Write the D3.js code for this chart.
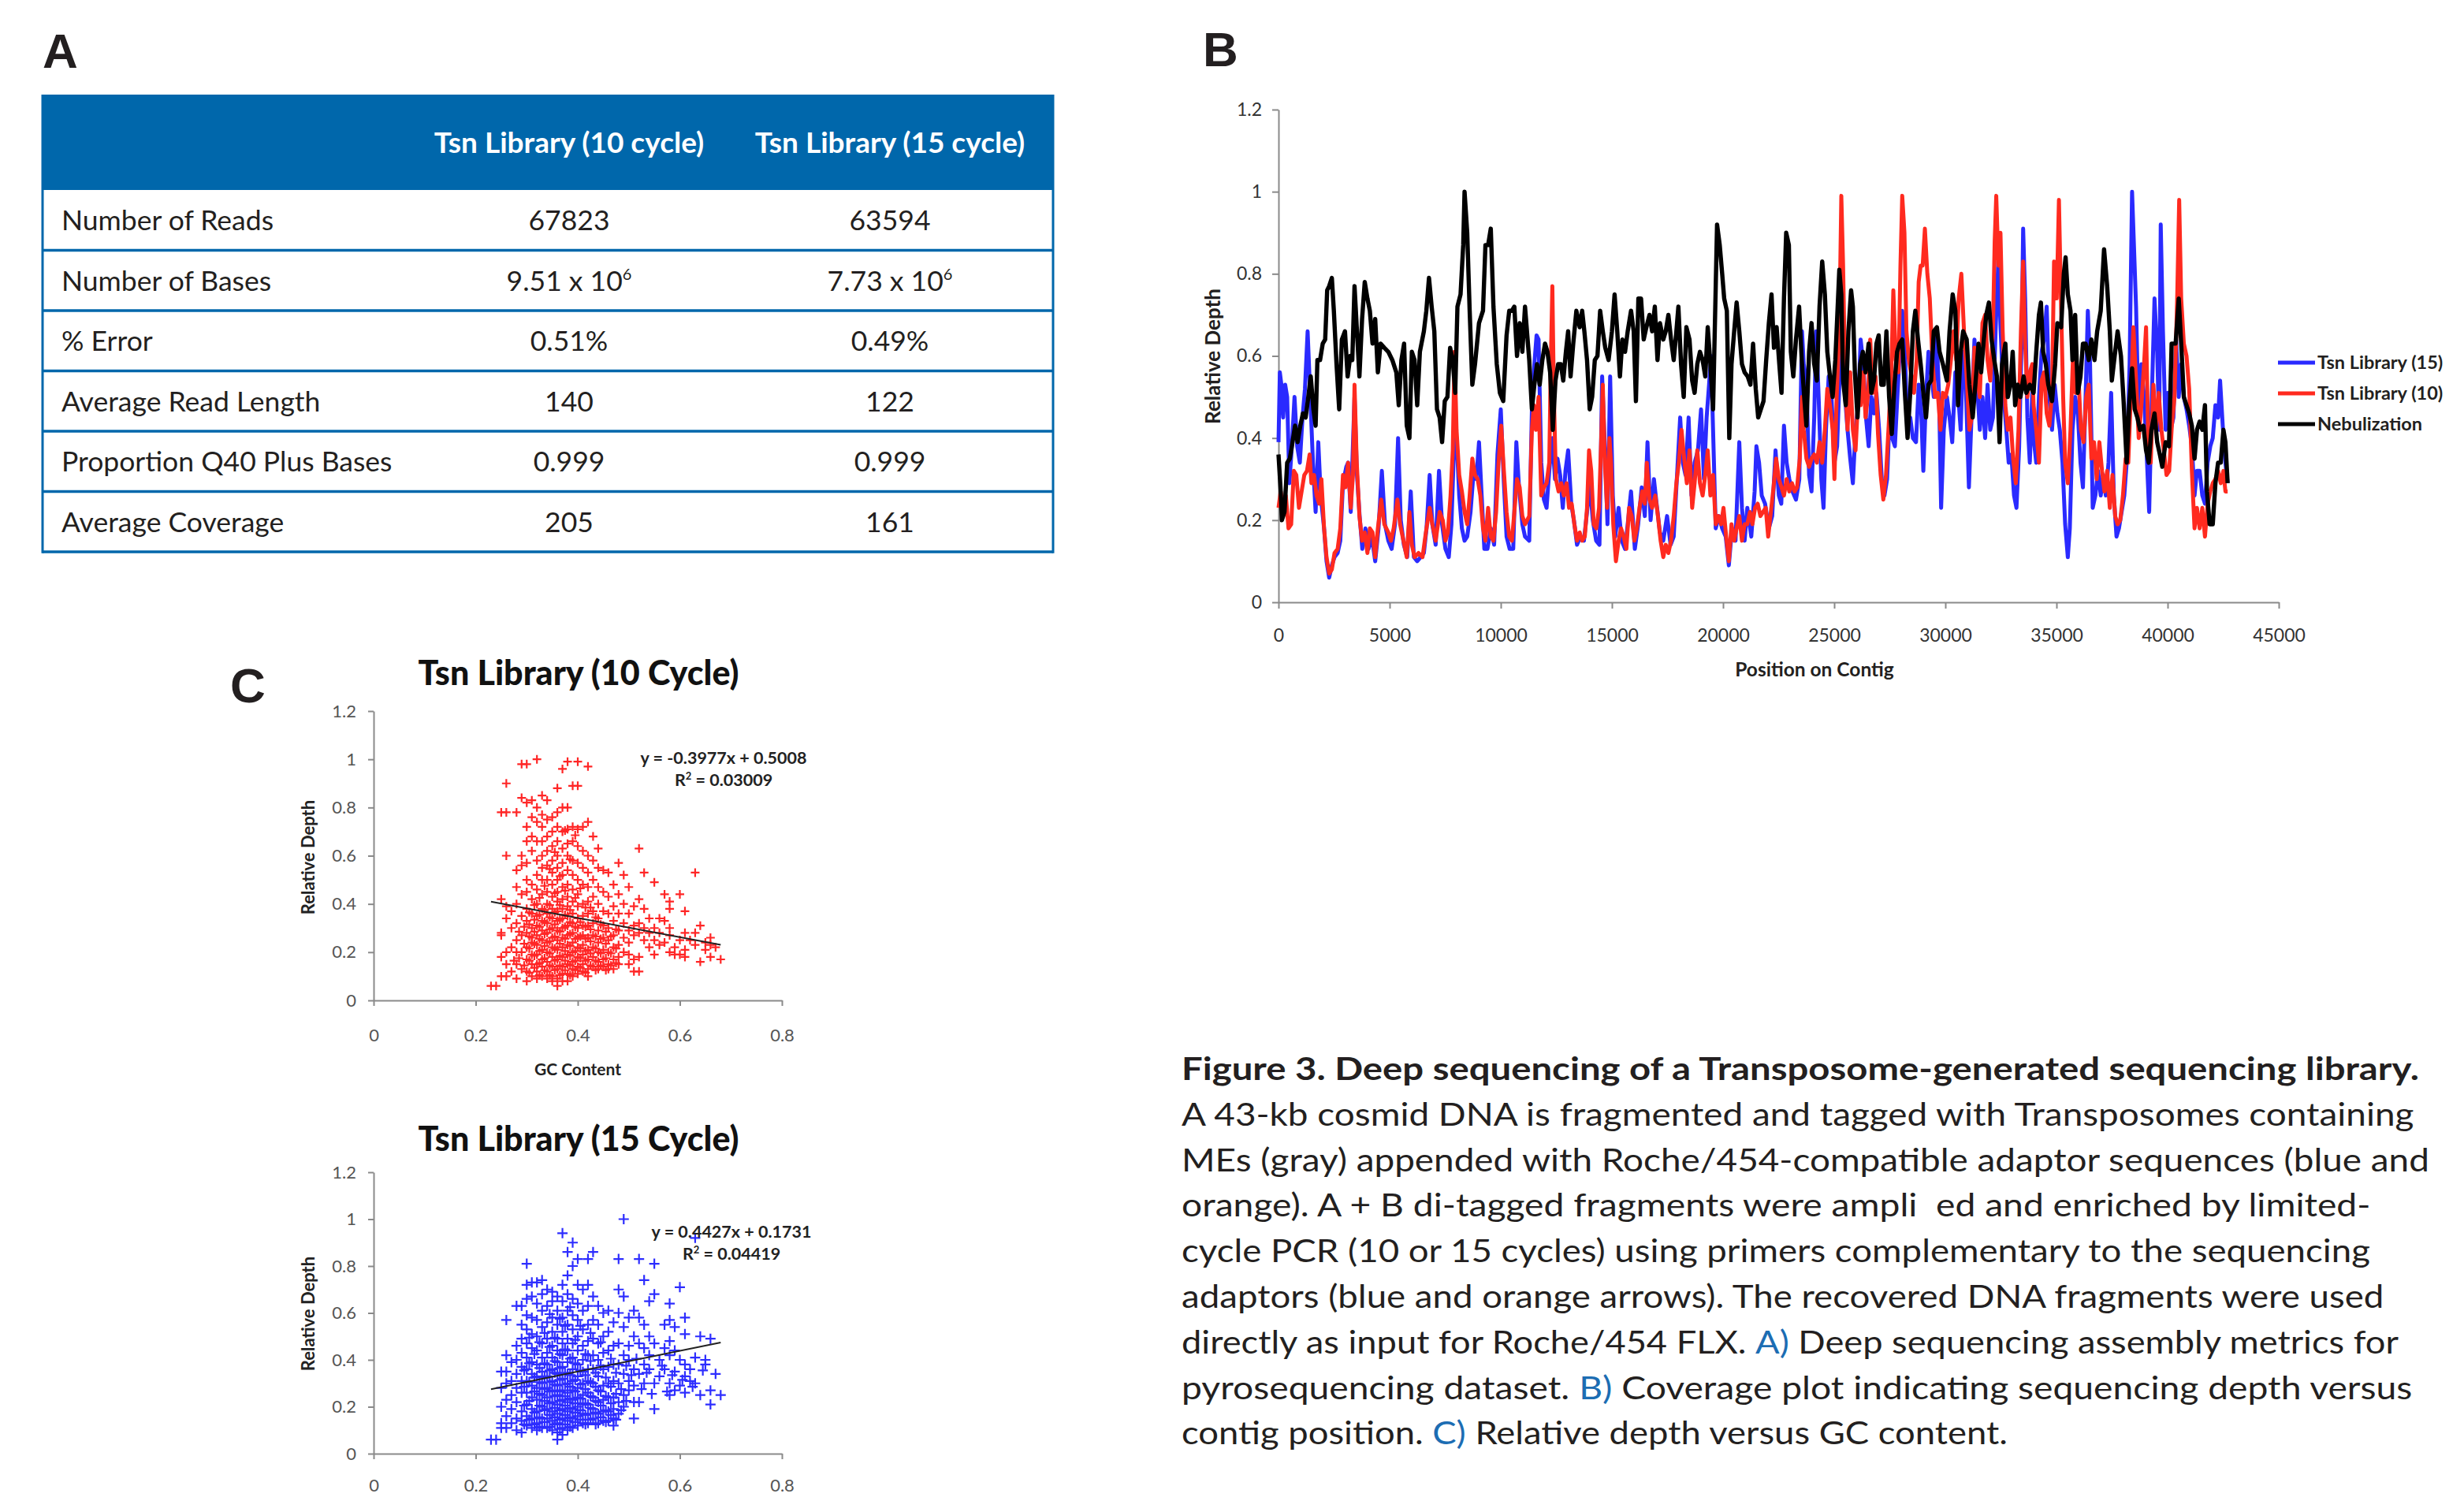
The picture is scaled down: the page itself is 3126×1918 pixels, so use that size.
<!DOCTYPE html>
<html lang="en">
<head>
<meta charset="UTF-8" />
<title>Figure 3. Deep sequencing of a Transposome-generated sequencing library</title>
<script src="https://d3js.org/d3.v7.min.js"></script>
<style>
  body { margin: 0; background: #fff; }
  svg { display: block; font-family: Lato, "Open Sans", sans-serif; }
  .axis path, .axis line { stroke: #8a8a8a; stroke-width: 2; }
</style>
</head>
<body>
<div id="figure"></div>
<script>
// ---------- A: assembly metrics ----------
const libraryHeaders = ["Tsn Library (10 cycle)", "Tsn Library (15 cycle)"];
const metricNames = ["Number of Reads", "Number of Bases", "% Error", "Average Read Length",
  "Proportion Q40 Plus Bases", "Average Coverage"];
const tsn10Metrics = ["67823", "9.51 x 10^6", "0.51%", "140", "0.999", "205"];
const tsn15Metrics = ["63594", "7.73 x 10^6", "0.49%", "122", "0.999", "161"];

// ---------- B: coverage along the contig [position, relative depth] ----------
const positionTicks = [0, 5000, 10000, 15000, 20000, 25000, 30000, 35000, 40000, 45000];
const depthTicks = [0, 0.2, 0.4, 0.6, 0.8, 1, 1.2];
const coverageLabels = ["Tsn Library (15)", "Tsn Library (10)", "Nebulization"];

const tsn15Coverage = [
  [0,.39],[60,.56],[130,.53],[210,.45],[300,.53],[390,.50],[490,.29],[600,.38],[720,.50],[840,.38],[960,.34],[1080,.45],[1190,.52],[1310,.66],[1430,.50],[1550,.34],[1670,.22],[1790,.39],[1900,.26],[2050,.18],[2160,.10],[2280,.06],[2400,.09],[2520,.11],[2660,.12],[2780,.15],[2900,.29],[3050,.33],[3130,.34],[3250,.22],[3420,.50],[3530,.31],[3650,.21],[3770,.13],[3910,.18],[4050,.13],[4200,.16],[4350,.10],[4500,.18],[4650,.32],[4790,.19],[4940,.15],[5090,.13],[5240,.19],[5380,.40],[5500,.20],[5640,.14],[5790,.11],[5950,.27],[6090,.11],[6240,.10],[6400,.11],[6540,.12],[6660,.18],[6800,.31],[6920,.19],[7070,.14],[7220,.32],[7360,.19],[7510,.13],[7660,.11],[7780,.19],[7920,.42],[8010,.40],[8130,.26],[8250,.18],[8370,.15],[8490,.16],[8640,.22],[8780,.32],[8900,.30],[9020,.39],[9140,.26],[9260,.13],[9400,.13],[9550,.18],[9700,.14],[9850,.36],[10000,.47],[10140,.29],[10260,.16],[10400,.13],[10560,.13],[10700,.39],[10820,.28],[10970,.19],[11090,.16],
  [11280,.15],[11400,.47],[11510,.58],[11610,.65],[11700,.64],[11820,.34],[11940,.25],[12060,.23],[12180,.32],[12320,.40],[12440,.30],[12550,.35],[12670,.31],[12790,.23],[12910,.32],[13030,.37],[13170,.24],[13290,.20],[13430,.14],[13580,.16],[13740,.15],[13880,.22],[14000,.29],[14140,.20],[14290,.15],[14440,.14],[14560,.55],[14680,.38],[14800,.19],[14920,.55],[15040,.26],[15150,.16],[15300,.23],[15440,.15],[15590,.13],[15710,.19],[15860,.27],[16030,.13],[16180,.19],[16340,.28],[16480,.21],[16600,.39],[16740,.20],[16890,.30],[17010,.24],[17160,.17],[17310,.15],[17480,.21],[17640,.14],[17780,.16],[17920,.30],[18070,.45],[18190,.34],[18310,.31],[18450,.45],[18580,.26],[18720,.34],[18870,.37],[19010,.47],[19140,.30],[19260,.45],[19370,.53],[19460,.60],[19550,.42],[19670,.18],[19810,.21],[19960,.18],[20120,.16],[20260,.09],[20400,.18],[20560,.15],[20730,.39],[20850,.23],[20970,.15],[21090,.23],[21270,.16],[21420,.27],[21500,.38],[21620,.34],[21740,.26],[21890,.24],[22060,.18],[22210,.21],[22360,.37],[22510,.26],[22620,.24],
  [22740,.43],[22860,.34],[22980,.30],[23120,.27],[23280,.25],[23430,.30],[23550,.66],[23630,.58],[23750,.54],[23870,.31],[23980,.27],[24100,.45],[24190,.66],[24300,.50],[24420,.30],[24520,.23],[24630,.42],[24750,.55],[24870,.51],[25010,.34],[25130,.38],[25250,.56],[25370,.67],[25490,.50],[25600,.42],[25720,.35],[25840,.29],[25960,.42],[26080,.48],[26190,.64],[26310,.58],[26430,.45],[26550,.38],[26670,.50],[26790,.46],[26900,.51],[27020,.42],[27140,.30],[27260,.26],[27380,.30],[27490,.45],[27610,.40],[27730,.38],[27850,.51],[27970,.63],[28060,.71],[28180,.61],[28300,.42],[28420,.45],[28540,.40],[28680,.39],[28800,.53],[28910,.47],[29010,.32],[29130,.50],[29240,.61],[29360,.56],[29480,.50],[29600,.66],[29720,.50],[29810,.23],[29930,.42],[30070,.50],[30190,.45],[30310,.39],[30450,.56],[30570,.51],[30690,.42],[30800,.61],[30920,.53],[31060,.28],[31190,.47],[31310,.64],[31430,.53],[31550,.42],[31670,.50],[31790,.40],[31900,.53],[32020,.42],[32140,.45],[32260,.66],[32380,.83],[32490,.66],[32610,.51],[32730,.43],[32850,.34],[32970,.36],[33090,.26],[33200,.23],[33320,.38],[33440,.66],[33500,.91],[33590,.74],[33690,.45],[33800,.34],[33910,.51],
  [33970,.40],[34090,.34],[34210,.50],[34330,.61],[34440,.64],[34560,.72],[34680,.50],[34800,.42],[34920,.53],[35040,.46],[35150,.42],[35270,.34],[35390,.19],[35510,.11],[35600,.18],[35720,.42],[35840,.50],[35960,.46],[36080,.34],[36190,.28],[36310,.50],[36410,.71],[36510,.58],[36630,.23],[36750,.26],[36870,.32],[36990,.26],[37100,.31],[37220,.26],[37340,.34],[37460,.51],[37580,.26],[37700,.16],[37810,.18],[37930,.22],[38050,.26],[38170,.35],[38290,.58],[38400,1.0],[38490,.86],[38580,.72],[38700,.43],[38820,.58],[38940,.50],[39050,.37],[39170,.22],[39290,.50],[39410,.74],[39530,.61],[39620,.42],[39690,.92],[39790,.66],[39910,.42],[40020,.51],[40140,.42],[40260,.45],[40380,.64],[40500,.50],[40610,.58],[40730,.50],[40850,.47],[40970,.43],[41090,.38],[41210,.26],[41320,.32],[41440,.32],[41560,.26],[41680,.24],[41800,.34],[41920,.38],[42030,.40],[42150,.48],[42270,.45],[42360,.54],[42480,.43],[42600,.34],[42700,.29]
];

const tsn10Coverage = [
  [0,.23],[100,.27],[210,.23],[330,.26],[450,.18],[570,.19],[690,.32],[800,.31],[920,.23],[1040,.27],[1160,.31],[1280,.32],[1400,.36],[1480,.29],[1600,.31],[1710,.26],[1830,.24],[1930,.30],[2050,.18],[2160,.11],[2280,.07],[2400,.08],[2520,.12],[2660,.13],[2780,.18],[2900,.31],[3010,.28],[3130,.34],[3250,.23],[3350,.31],[3420,.53],[3520,.34],[3640,.21],[3760,.15],[3880,.17],[4000,.12],[4110,.18],[4230,.17],[4350,.11],[4470,.18],[4620,.25],[4760,.19],[4940,.17],[5060,.15],[5180,.18],[5350,.25],[5470,.19],[5620,.15],[5770,.11],[5890,.22],[6000,.14],[6120,.11],[6300,.12],[6480,.11],[6630,.17],[6800,.23],[6920,.19],[7070,.15],[7250,.22],[7390,.20],[7510,.15],[7620,.17],[7740,.26],[7840,.37],[7920,.61],[8010,.42],[8130,.31],[8250,.27],[8370,.22],[8490,.19],[8600,.26],[8720,.35],[8840,.31],[8960,.30],[9080,.26],[9200,.18],[9310,.15],[9430,.23],[9550,.16],[9670,.15],[9790,.22],[9900,.34],[10020,.43],[10140,.32],[10260,.22],[10380,.16],[10500,.15],[10610,.22],[10730,.30],[10850,.28],[10970,.21],[11090,.19],
  [11280,.21],[11400,.42],[11490,.48],[11580,.42],[11700,.50],[11820,.26],[11940,.28],[12060,.29],[12180,.34],[12250,.58],[12320,.77],[12390,.50],[12480,.30],[12600,.27],[12720,.29],[12840,.26],[12960,.29],[13070,.23],[13190,.24],[13310,.19],[13430,.15],[13550,.17],[13660,.15],[13780,.16],[13880,.23],[13970,.37],[14070,.32],[14180,.19],[14300,.18],[14420,.23],[14520,.40],[14590,.53],[14680,.34],[14780,.23],[14890,.40],[14960,.34],[15060,.19],[15180,.10],[15300,.15],[15410,.18],[15530,.16],[15650,.13],[15770,.23],[15890,.21],[16010,.15],[16120,.18],[16240,.23],[16360,.27],[16480,.24],[16570,.34],[16690,.25],[16810,.23],[16950,.26],[17070,.21],[17190,.15],[17310,.11],[17420,.14],[17540,.12],[17660,.15],[17780,.21],[17900,.29],[18010,.34],[18130,.42],[18250,.35],[18370,.29],[18490,.37],[18610,.23],[18720,.29],[18840,.37],[18960,.29],[19080,.26],[19200,.31],[19310,.37],[19430,.26],[19550,.31],[19670,.19],[19790,.21],[19910,.19],[20020,.23],[20140,.16],[20260,.10],[20380,.19],[20500,.15],[20610,.18],[20730,.21],[20850,.15],[20970,.19],[21090,.19],[21210,.22],[21320,.19],[21440,.23],[21560,.24],[21680,.21],[21800,.22],[21920,.23],[22030,.16],[22150,.22],[22270,.28],[22390,.35],[22510,.30],
  [22630,.28],[22740,.26],[22860,.30],[22980,.27],[23100,.29],[23220,.27],[23330,.28],[23450,.35],[23550,.50],[23630,.42],[23750,.35],[23870,.33],[23980,.35],[24100,.36],[24220,.34],[24340,.39],[24460,.34],[24580,.42],[24690,.52],[24810,.48],[24930,.42],[25010,.30],[25110,.50],[25230,.66],[25320,.99],[25400,.82],[25490,.54],[25600,.42],[25720,.56],[25840,.42],[25960,.37],[26080,.50],[26190,.48],[26310,.56],[26410,.45],[26530,.51],[26620,.64],[26740,.51],[26860,.55],[26970,.41],[27090,.31],[27210,.25],[27330,.31],[27450,.43],[27570,.56],[27660,.76],[27770,.59],[27890,.56],[27980,.82],[28060,.99],[28160,.90],[28250,.66],[28360,.59],[28480,.55],[28590,.51],[28710,.59],[28800,.78],[28890,.82],[28980,.82],[29080,.91],[29190,.80],[29300,.74],[29420,.59],[29540,.50],[29660,.51],[29780,.42],[29890,.51],[30010,.50],[30130,.53],[30250,.59],[30370,.66],[30490,.59],[30600,.74],[30720,.80],[30840,.66],[30960,.55],[31080,.42],[31190,.45],[31310,.62],[31430,.55],[31550,.50],[31670,.68],[31790,.70],[31900,.59],[32020,.54],[32140,.66],[32220,.88],[32290,.99],[32390,.82],[32480,.90],[32580,.66],[32700,.48],[32810,.42],[32930,.45],[33050,.35],[33170,.29],[33290,.42],[33400,.66],[33500,.83],[33590,.63],[33690,.50],[33800,.56],[33910,.58],
  [33970,.48],[34090,.42],[34210,.34],[34330,.54],[34440,.56],[34560,.46],[34680,.43],[34800,.51],[34890,.83],[35010,.74],[35110,.98],[35200,.74],[35300,.50],[35390,.34],[35510,.29],[35630,.42],[35750,.61],[35860,.51],[35980,.56],[36100,.42],[36220,.39],[36340,.50],[36450,.53],[36570,.35],[36690,.39],[36810,.30],[36930,.39],[37050,.32],[37160,.27],[37280,.32],[37400,.23],[37520,.31],[37640,.21],[37750,.19],[37870,.20],[37990,.26],[38110,.35],[38230,.34],[38350,.51],[38460,.67],[38580,.54],[38700,.40],[38820,.48],[38940,.58],[39030,.67],[39130,.39],[39240,.34],[39360,.53],[39480,.42],[39600,.51],[39720,.42],[39830,.37],[39950,.31],[40070,.32],[40190,.43],[40310,.50],[40430,.74],[40520,.98],[40610,.74],[40730,.63],[40850,.60],[40970,.52],[41090,.32],[41210,.18],[41320,.23],[41440,.18],[41560,.23],[41680,.16],[41800,.24],[41920,.27],[42030,.29],[42150,.30],[42270,.32],[42390,.29],[42510,.32],[42600,.27],[42700,.27]
];

const nebulizationCoverage = [
  [0,.36],[100,.27],[150,.20],[270,.22],[390,.34],[510,.35],[630,.39],[745,.43],[860,.39],[980,.43],[1100,.46],[1220,.45],[1340,.50],[1450,.55],[1570,.47],[1670,.43],[1750,.59],[1870,.59],[1990,.63],[2100,.64],[2190,.76],[2280,.77],[2400,.79],[2490,.71],[2610,.58],[2730,.47],[2850,.64],[2990,.66],[3110,.55],[3230,.60],[3320,.59],[3420,.77],[3520,.67],[3640,.55],[3760,.69],[3880,.78],[4000,.74],[4110,.71],[4230,.63],[4350,.69],[4470,.56],[4590,.63],[4760,.62],[4940,.61],[5120,.59],[5300,.56],[5410,.48],[5530,.59],[5650,.63],[5770,.43],[5890,.40],[6000,.61],[6120,.59],[6240,.48],[6360,.61],[6540,.66],[6650,.71],[6770,.79],[6890,.72],[7010,.66],[7130,.47],[7250,.45],[7360,.39],[7480,.49],[7600,.50],[7720,.62],[7840,.59],[7950,.51],[8050,.72],[8190,.75],[8310,.87],[8370,1.0],[8490,.90],[8600,.71],[8720,.53],[8840,.58],[9020,.68],[9200,.71],[9310,.87],[9430,.87],[9550,.91],[9670,.72],[9820,.58],[9960,.51],[10110,.49],[10260,.65],[10380,.71],[10500,.71],[10610,.72],[10730,.60],[10850,.68],[10970,.61],[11090,.72],
  [11280,.59],[11400,.47],[11510,.53],[11630,.58],[11750,.53],[11870,.59],[11990,.63],[12100,.61],[12220,.56],[12340,.42],[12460,.54],[12580,.58],[12700,.58],[12810,.54],[12930,.61],[13030,.66],[13140,.55],[13260,.63],[13400,.71],[13550,.67],[13660,.71],[13760,.66],[13880,.59],[14000,.47],[14110,.50],[14230,.59],[14350,.60],[14470,.71],[14590,.66],[14700,.62],[14850,.59],[15000,.66],[15120,.75],[15240,.66],[15360,.55],[15470,.64],[15590,.61],[15710,.66],[15860,.71],[15980,.66],[16080,.49],[16190,.74],[16310,.74],[16430,.64],[16550,.67],[16690,.70],[16810,.66],[16930,.72],[17050,.59],[17160,.68],[17310,.64],[17420,.66],[17540,.70],[17660,.64],[17780,.59],[17900,.66],[17990,.72],[18110,.58],[18230,.50],[18350,.67],[18490,.64],[18610,.54],[18720,.51],[18840,.58],[18960,.61],[19080,.59],[19200,.55],[19310,.67],[19430,.58],[19550,.47],[19670,.77],[19730,.92],[19850,.87],[19960,.80],[20050,.74],[20170,.71],[20280,.40],[20380,.58],[20500,.66],[20610,.73],[20730,.66],[20850,.58],[20970,.56],[21110,.55],[21230,.53],[21350,.63],[21470,.52],[21580,.45],[21700,.47],[21820,.49],[21940,.59],[22060,.68],[22180,.75],[22290,.62],[22410,.67],[22530,.58],
  [22630,.51],[22740,.74],[22840,.90],[22960,.87],[23050,.61],[23160,.55],[23280,.64],[23420,.72],[23540,.59],[23650,.50],[23750,.43],[23870,.61],[23980,.68],[24100,.58],[24220,.54],[24340,.72],[24460,.83],[24580,.75],[24690,.61],[24810,.55],[24930,.50],[25050,.59],[25230,.81],[25320,.75],[25400,.54],[25520,.48],[25640,.66],[25760,.76],[25840,.72],[25930,.56],[26050,.45],[26170,.58],[26290,.61],[26410,.56],[26550,.63],[26670,.51],[26790,.54],[26900,.63],[27000,.65],[27120,.53],[27230,.53],[27350,.66],[27470,.50],[27590,.41],[27710,.53],[27830,.61],[27940,.63],[28060,.64],[28180,.51],[28300,.40],[28420,.51],[28540,.66],[28650,.71],[28770,.64],[28890,.58],[29010,.51],[29130,.45],[29240,.53],[29360,.54],[29480,.66],[29620,.67],[29740,.61],[29890,.58],[30070,.54],[30190,.66],[30330,.75],[30450,.71],[30570,.48],[30690,.61],[30800,.66],[30960,.64],[31080,.53],[31230,.45],[31350,.53],[31490,.63],[31610,.56],[31730,.64],[31840,.70],[31960,.73],[32080,.64],[32200,.59],[32320,.55],[32440,.39],[32550,.58],[32700,.63],[32810,.50],[32930,.53],[33030,.61],[33140,.48],[33260,.53],[33380,.50],[33520,.55],[33640,.51],[33800,.53],
  [33970,.51],[34090,.61],[34210,.70],[34300,.73],[34400,.61],[34520,.58],[34630,.53],[34800,.49],[34940,.58],[35040,.68],[35210,.67],[35330,.80],[35410,.84],[35510,.75],[35630,.71],[35720,.59],[35840,.70],[35960,.51],[36080,.55],[36190,.63],[36310,.63],[36450,.59],[36570,.64],[36710,.59],[36830,.66],[36990,.71],[37140,.86],[37280,.77],[37400,.66],[37490,.54],[37640,.61],[37750,.66],[37900,.60],[38010,.50],[38160,.34],[38270,.48],[38400,.57],[38520,.47],[38640,.45],[38760,.42],[38910,.43],[39030,.37],[39150,.34],[39270,.42],[39410,.46],[39530,.39],[39650,.36],[39760,.33],[39910,.39],[40060,.38],[40180,.63],[40360,.63],[40500,.74],[40610,.63],[40730,.50],[40850,.48],[40970,.46],[41090,.43],[41210,.35],[41320,.42],[41440,.44],[41560,.42],[41680,.48],[41770,.27],[41890,.19],[42030,.19],[42150,.29],[42270,.34],[42390,.34],[42510,.42],[42600,.39],[42700,.29]
];

// ---------- C: relative depth vs GC content [gc, relative depth] ----------
const gcTicks = [0, 0.2, 0.4, 0.6, 0.8];
const scatterTitles = ["Tsn Library (10 Cycle)", "Tsn Library (15 Cycle)"];
const tsn10Fit = { slope: -0.3977, intercept: 0.5008, r2: "0.03009" };
const tsn15Fit = { slope: 0.4427, intercept: 0.1731, r2: "0.04419" };
const fitGcRange = [0.23, 0.68];

const tsn10Scatter = [
  [.23,.06],[.24,.06],[.25,.10],[.26,.10],[.25,.28],[.25,.27],[.26,.20],[.25,.18],[.26,.15],[.26,.34],[.26,.39],[.25,.42],[.26,.60],[.26,.78],[.25,.78],[.26,.90],
  [.27,.22],[.27,.30],[.27,.12],[.28,.09],[.28,.15],[.28,.25],[.28,.32],[.28,.40],[.28,.47],[.28,.54],[.28,.78],[.29,.84],[.29,.98],[.29,.60],[.29,.56],[.29,.20],[.29,.13],[.29,.35],[.29,.44],[.29,.27],[.27,.37],[.28,.20],
  [.30,.98],[.30,.82],[.30,.72],[.30,.66],[.30,.57],[.30,.50],[.30,.45],[.30,.38],[.30,.33],[.30,.28],[.30,.22],[.30,.17],[.30,.12],[.31,.10],[.31,.15],[.31,.19],[.31,.24],[.31,.30],[.31,.36],[.31,.42],[.31,.48],[.31,.62],[.31,.68],[.31,.76],[.31,.83],[.31,.26],[.30,.08],
  [.32,1.0],[.32,.80],[.32,.74],[.32,.66],[.32,.58],[.32,.52],[.32,.46],[.32,.40],[.32,.35],[.32,.31],[.32,.27],[.32,.23],[.32,.19],[.32,.15],[.32,.12],[.33,.10],[.33,.14],[.33,.17],[.33,.21],[.33,.25],[.33,.29],[.33,.33],[.33,.38],[.33,.44],[.33,.50],[.33,.55],[.33,.60],[.33,.66],[.33,.72],[.33,.85],[.33,.77],[.32,.09],
  [.34,.83],[.34,.75],[.34,.68],[.34,.62],[.34,.56],[.34,.50],[.34,.45],[.34,.40],[.34,.36],[.34,.32],[.34,.28],[.34,.24],[.34,.20],[.34,.16],[.34,.12],[.35,.10],[.35,.14],[.35,.18],[.35,.22],[.35,.26],[.35,.30],[.35,.34],[.35,.38],[.35,.43],[.35,.48],[.35,.53],[.35,.58],[.35,.64],[.35,.70],[.35,.76],[.34,.09],[.35,.08],
  [.36,.88],[.36,.78],[.36,.72],[.36,.66],[.36,.60],[.36,.55],[.36,.50],[.36,.45],[.36,.41],[.36,.37],[.36,.33],[.36,.29],[.36,.25],[.36,.21],[.36,.17],[.36,.13],[.36,.06],[.36,.09],[.37,.96],[.37,.80],[.37,.70],[.37,.63],[.37,.57],[.37,.52],[.37,.47],[.37,.42],[.37,.38],[.37,.34],[.37,.30],[.37,.26],[.37,.22],[.37,.18],[.37,.14],[.37,.11],[.37,.08],
  [.38,.99],[.38,.80],[.38,.71],[.38,.65],[.38,.60],[.38,.54],[.38,.48],[.38,.43],[.38,.39],[.38,.35],[.38,.31],[.38,.27],[.38,.23],[.38,.19],[.38,.15],[.38,.11],[.38,.08],[.39,.89],[.39,.72],[.39,.66],[.39,.58],[.39,.52],[.39,.46],[.39,.41],[.39,.36],[.39,.32],[.39,.28],[.39,.24],[.39,.20],[.39,.16],[.39,.13],[.39,.10],
  [.40,.99],[.40,.89],[.40,.71],[.40,.64],[.40,.57],[.40,.50],[.40,.44],[.40,.39],[.40,.34],[.40,.30],[.40,.26],[.40,.22],[.40,.18],[.40,.14],[.40,.11],[.41,.72],[.41,.62],[.41,.55],[.41,.48],[.41,.40],[.41,.35],[.41,.31],[.41,.27],[.41,.23],[.41,.19],[.41,.15],[.41,.12],
  [.42,.97],[.42,.74],[.42,.60],[.42,.53],[.42,.47],[.42,.41],[.42,.36],[.42,.31],[.42,.26],[.42,.21],[.42,.17],[.42,.13],[.42,.10],[.43,.68],[.43,.58],[.43,.50],[.43,.43],[.43,.37],[.43,.32],[.43,.27],[.43,.22],[.43,.18],[.43,.14],
  [.44,.63],[.44,.55],[.44,.47],[.44,.40],[.44,.34],[.44,.29],[.44,.24],[.44,.20],[.44,.16],[.44,.13],[.45,.54],[.45,.45],[.45,.37],[.45,.31],[.45,.26],[.45,.21],[.45,.17],[.45,.14],
  [.46,.53],[.46,.43],[.46,.36],[.46,.30],[.46,.25],[.46,.20],[.46,.15],[.46,.13],[.47,.48],[.47,.39],[.47,.33],[.47,.27],[.47,.22],[.47,.17],[.47,.13],
  [.48,.57],[.48,.44],[.48,.36],[.48,.29],[.48,.23],[.48,.18],[.48,.15],[.49,.52],[.49,.40],[.49,.32],[.49,.26],[.49,.20],
  [.50,.47],[.50,.36],[.50,.29],[.50,.24],[.50,.19],[.50,.15],[.51,.39],[.51,.31],[.51,.27],[.51,.17],[.51,.12],
  [.52,.63],[.52,.42],[.52,.32],[.52,.28],[.52,.18],[.52,.12],[.53,.53],[.53,.38],[.53,.30],[.53,.25],[.54,.34],[.54,.28],[.54,.22],[.55,.49],[.55,.19],[.55,.30],[.55,.25],
  [.56,.34],[.56,.28],[.56,.23],[.57,.44],[.57,.33],[.57,.24],[.58,.41],[.58,.38],[.58,.30],[.58,.27],[.58,.20],[.59,.19],[.59,.22],
  [.60,.44],[.60,.25],[.60,.19],[.61,.37],[.61,.21],[.61,.18],[.61,.28],[.62,.25],[.63,.53],[.63,.23],[.63,.28],
  [.64,.31],[.64,.16],[.65,.24],[.65,.21],[.66,.26],[.66,.18],[.66,.23],[.67,.22],[.68,.17],
  [.305,.115],[.305,.165],[.305,.215],[.305,.265],[.305,.315],[.305,.365],
  [.315,.135],[.315,.185],[.315,.235],[.315,.285],[.315,.335],[.315,.395],
  [.325,.105],[.325,.155],[.325,.205],[.325,.255],[.325,.305],[.325,.355],[.325,.425],
  [.335,.125],[.335,.175],[.335,.225],[.335,.275],[.335,.325],[.335,.375],[.335,.475],
  [.345,.105],[.345,.145],[.345,.195],[.345,.245],[.345,.295],[.345,.345],[.345,.395],[.345,.545],
  [.355,.125],[.355,.165],[.355,.215],[.355,.265],[.355,.315],[.355,.365],[.355,.445],[.355,.615],
  [.365,.105],[.365,.145],[.365,.185],[.365,.235],[.365,.285],[.365,.335],[.365,.395],[.365,.515],
  [.375,.125],[.375,.165],[.375,.205],[.375,.255],[.375,.305],[.375,.355],[.375,.455],[.375,.705],
  [.385,.105],[.385,.145],[.385,.185],[.385,.225],[.385,.275],[.385,.325],[.385,.375],[.385,.585],
  [.395,.125],[.395,.165],[.395,.205],[.395,.255],[.395,.305],[.395,.425],[.395,.685],
  [.405,.135],[.405,.175],[.405,.215],[.405,.265],[.405,.325],[.405,.465],
  [.415,.115],[.415,.165],[.415,.205],[.415,.255],[.415,.305],[.415,.385],
  [.425,.145],[.425,.195],[.425,.245],[.425,.295],[.425,.385],
  [.435,.125],[.435,.165],[.435,.215],[.435,.265],[.435,.345],
  [.445,.145],[.445,.195],[.445,.255],[.445,.315],
  [.455,.125],[.455,.175],[.455,.235],[.455,.285],
  [.465,.145],[.465,.195],[.465,.265],
  [.475,.155],[.475,.215],[.475,.295],
  [.295,.145],[.295,.235],[.295,.305],[.285,.175],[.285,.285],[.275,.165]
];

const tsn15Scatter = [
  [.23,.06],[.24,.06],[.25,.11],[.26,.11],[.25,.13],[.26,.16],[.25,.20],[.26,.23],[.25,.35],[.26,.35],[.26,.42],[.26,.57],[.25,.28],[.26,.30],
  [.27,.13],[.27,.19],[.27,.25],[.27,.39],[.28,.10],[.28,.15],[.28,.22],[.28,.28],[.28,.34],[.28,.40],[.28,.46],[.28,.63],[.29,.09],[.29,.14],[.29,.18],[.29,.26],[.29,.31],[.29,.37],[.29,.43],[.29,.49],[.29,.55],[.29,.63],[.27,.31],
  [.30,.81],[.30,.72],[.30,.66],[.30,.59],[.30,.53],[.30,.47],[.30,.41],[.30,.36],[.30,.31],[.30,.26],[.30,.21],[.30,.16],[.30,.12],[.31,.11],[.31,.15],[.31,.19],[.31,.24],[.31,.29],[.31,.34],[.31,.39],[.31,.45],[.31,.51],[.31,.58],[.31,.67],[.31,.73],
  [.32,.73],[.32,.64],[.32,.57],[.32,.50],[.32,.44],[.32,.38],[.32,.33],[.32,.28],[.32,.23],[.32,.18],[.32,.13],[.32,.10],[.33,.11],[.33,.15],[.33,.20],[.33,.25],[.33,.30],[.33,.35],[.33,.41],[.33,.47],[.33,.54],[.33,.61],[.33,.68],[.33,.74],
  [.34,.70],[.34,.63],[.34,.56],[.34,.49],[.34,.43],[.34,.38],[.34,.33],[.34,.28],[.34,.24],[.34,.19],[.34,.15],[.34,.11],[.35,.10],[.35,.14],[.35,.18],[.35,.22],[.35,.27],[.35,.31],[.35,.36],[.35,.41],[.35,.46],[.35,.52],[.35,.58],[.35,.65],[.35,.69],
  [.36,.06],[.36,.09],[.36,.13],[.36,.17],[.36,.21],[.36,.25],[.36,.29],[.36,.34],[.36,.39],[.36,.44],[.36,.49],[.36,.55],[.36,.61],[.36,.67],[.37,.94],[.37,.72],[.37,.65],[.37,.58],[.37,.52],[.37,.47],[.37,.42],[.37,.37],[.37,.32],[.37,.27],[.37,.23],[.37,.19],[.37,.15],[.37,.11],[.37,.08],
  [.38,.86],[.38,.76],[.38,.68],[.38,.61],[.38,.55],[.38,.49],[.38,.44],[.38,.39],[.38,.34],[.38,.30],[.38,.26],[.38,.22],[.38,.18],[.38,.14],[.38,.10],[.39,.90],[.39,.80],[.39,.66],[.39,.59],[.39,.53],[.39,.47],[.39,.41],[.39,.36],[.39,.31],[.39,.27],[.39,.23],[.39,.19],[.39,.15],[.39,.11],
  [.40,.83],[.40,.72],[.40,.64],[.40,.57],[.40,.50],[.40,.44],[.40,.38],[.40,.33],[.40,.28],[.40,.24],[.40,.20],[.40,.16],[.40,.12],[.41,.70],[.41,.61],[.41,.53],[.41,.46],[.41,.40],[.41,.35],[.41,.30],[.41,.25],[.41,.21],[.41,.17],[.41,.13],
  [.42,.83],[.42,.72],[.42,.63],[.42,.55],[.42,.48],[.42,.42],[.42,.36],[.42,.31],[.42,.26],[.42,.21],[.42,.17],[.42,.13],[.43,.86],[.43,.67],[.43,.57],[.43,.49],[.43,.42],[.43,.36],[.43,.30],[.43,.24],[.43,.19],[.43,.15],
  [.44,.63],[.44,.55],[.44,.47],[.44,.40],[.44,.33],[.44,.27],[.44,.22],[.44,.17],[.44,.13],[.45,.60],[.45,.50],[.45,.43],[.45,.36],[.45,.29],[.45,.23],[.45,.18],[.45,.14],
  [.46,.61],[.46,.52],[.46,.44],[.46,.37],[.46,.30],[.46,.24],[.46,.18],[.46,.14],[.47,.56],[.47,.46],[.47,.38],[.47,.31],[.47,.24],[.47,.19],[.47,.15],[.47,.12],
  [.48,.83],[.48,.70],[.48,.60],[.48,.47],[.48,.38],[.48,.30],[.48,.22],[.48,.17],[.49,1.0],[.49,.67],[.49,.54],[.49,.42],[.49,.34],[.49,.25],[.49,.20],
  [.50,.58],[.50,.46],[.50,.40],[.50,.31],[.50,.27],[.51,.61],[.51,.50],[.51,.36],[.51,.29],[.51,.15],[.51,.22],
  [.52,.83],[.52,.58],[.52,.47],[.52,.34],[.52,.22],[.53,.74],[.53,.55],[.53,.45],[.53,.38],[.53,.30],[.54,.65],[.54,.50],[.54,.42],[.54,.36],[.55,.81],[.55,.68],[.55,.47],[.55,.30],[.55,.19],
  [.56,.40],[.56,.33],[.57,.55],[.57,.45],[.57,.36],[.58,.64],[.58,.57],[.58,.48],[.58,.42],[.58,.30],[.58,.25],[.59,.44],[.59,.35],[.59,.27],[.59,.54],
  [.60,.71],[.60,.40],[.60,.29],[.61,.58],[.61,.51],[.61,.38],[.61,.33],[.61,.26],[.62,.36],[.62,.31],[.63,.92],[.63,.30],[.63,.41],
  [.64,.50],[.64,.25],[.65,.38],[.65,.40],[.66,.49],[.66,.27],[.66,.21],[.67,.34],[.68,.25],
  [.295,.125],[.295,.205],[.295,.285],[.295,.355],
  [.305,.145],[.305,.225],[.305,.305],[.305,.385],[.305,.495],
  [.315,.125],[.315,.175],[.315,.265],[.315,.325],[.315,.425],
  [.325,.115],[.325,.155],[.325,.205],[.325,.255],[.325,.305],[.325,.365],[.325,.475],
  [.335,.135],[.335,.185],[.335,.225],[.335,.275],[.335,.325],[.335,.385],[.335,.515],
  [.345,.115],[.345,.165],[.345,.215],[.345,.265],[.345,.305],[.345,.355],[.345,.455],[.345,.595],
  [.355,.125],[.355,.155],[.355,.195],[.355,.245],[.355,.295],[.355,.345],[.355,.395],[.355,.495],
  [.365,.105],[.365,.145],[.365,.185],[.365,.225],[.365,.265],[.365,.315],[.365,.365],[.365,.425],[.365,.575],
  [.375,.125],[.375,.165],[.375,.205],[.375,.245],[.375,.295],[.375,.345],[.375,.445],[.375,.545],
  [.385,.115],[.385,.155],[.385,.195],[.385,.235],[.385,.285],[.385,.335],[.385,.405],[.385,.625],
  [.395,.135],[.395,.175],[.395,.215],[.395,.265],[.395,.315],[.395,.385],[.395,.485],
  [.405,.145],[.405,.185],[.405,.235],[.405,.295],[.405,.355],[.405,.545],
  [.415,.125],[.415,.165],[.415,.215],[.415,.275],[.415,.335],[.415,.425],
  [.425,.145],[.425,.195],[.425,.245],[.425,.305],[.425,.395],[.425,.515],
  [.435,.125],[.435,.175],[.435,.225],[.435,.285],[.435,.345],
  [.445,.155],[.445,.205],[.445,.265],[.445,.375],[.445,.475],
  [.455,.135],[.455,.185],[.455,.245],[.455,.325],
  [.465,.165],[.465,.215],[.465,.285],[.465,.405],
  [.475,.145],[.475,.255],[.475,.345],
  [.485,.185],[.485,.275],[.495,.225],[.495,.375],[.505,.335],[.515,.405],[.525,.275],[.535,.345],[.545,.255],[.565,.375],[.575,.265],[.585,.335],[.605,.315],[.625,.285],[.645,.355]
];

// ---------- caption ----------
const captionLines = [
  [{ text: "Figure 3. Deep sequencing of a Transposome-generated sequencing library." }],
  [{ text: "A 43-kb cosmid DNA is fragmented and tagged with Transposomes containing" }],
  [{ text: "MEs (gray) appended with Roche/454-compatible adaptor sequences (blue and" }],
  [{ text: "orange). A + B di-tagged fragments were ampli  ed and enriched by limited-" }],
  [{ text: "cycle PCR (10 or 15 cycles) using primers complementary to the sequencing" }],
  [{ text: "adaptors (blue and orange arrows). The recovered DNA fragments were used" }],
  [{ text: "directly as input for Roche/454 FLX. " }, { text: "A)", ref: true }, { text: " Deep sequencing assembly metrics for" }],
  [{ text: "pyrosequencing dataset. " }, { text: "B)", ref: true }, { text: " Coverage plot indicating sequencing depth versus" }],
  [{ text: "contig position. " }, { text: "C)", ref: true }, { text: " Relative depth versus GC content." }]
];
const captionWidths = [1570, 1564, 1583, 1509, 1508, 1526, 1543, 1562, 1048];

// ================= drawing =================
const W = 3126, H = 1918;
const ink = "#231f20", tableBlue = "#0067ab", refBlue = "#1c6db3";
const svg = d3.select("#figure").append("svg").attr("width", W).attr("height", H);
svg.append("rect").attr("width", W).attr("height", H).attr("fill", "#fff");

// panel letters
const letterFont = '"Liberation Sans Narrow", "Liberation Sans", Arial, sans-serif';
[["A", 54, 86], ["B", 1526, 84], ["C", 292, 891]].forEach(([t, x, y]) => {
  svg.append("text").attr("x", x).attr("y", y).attr("font-family", letterFont)
    .attr("font-weight", 700).attr("font-size", 62).attr("fill", ink).text(t);
});

// ---------- panel A ----------
const tbl = { left: 54, right: 1336, top: 120, head: 241, rowH: 76.5, labelX: 78, colX: [722, 1129] };
const gA = svg.append("g");
const rowBand = d3.scaleBand().domain(metricNames)
  .range([tbl.head, tbl.head + tbl.rowH * metricNames.length]);

gA.append("rect").attr("x", tbl.left).attr("y", tbl.top)
  .attr("width", tbl.right - tbl.left).attr("height", tbl.head - tbl.top).attr("fill", tableBlue);

gA.selectAll(".head").data(libraryHeaders).join("text")
  .attr("x", (d, i) => tbl.colX[i]).attr("y", (tbl.top + tbl.head) / 2 + 13)
  .attr("text-anchor", "middle").attr("fill", "#fff").attr("font-weight", 700)
  .attr("font-size", 37).text(d => d);

gA.selectAll(".sep").data(metricNames).join("line")
  .attr("x1", tbl.left).attr("x2", tbl.right)
  .attr("y1", d => rowBand(d) + rowBand.bandwidth()).attr("y2", d => rowBand(d) + rowBand.bandwidth())
  .attr("stroke", tableBlue).attr("stroke-width", 3.5);
[tbl.left, tbl.right].forEach(x => gA.append("line").attr("x1", x).attr("x2", x)
  .attr("y1", tbl.top).attr("y2", rowBand.range()[1] + 1.75).attr("stroke", tableBlue).attr("stroke-width", 3));

metricNames.forEach((name, r) => {
  const y = rowBand(name) + rowBand.bandwidth() / 2 + 13;
  gA.append("text").attr("x", tbl.labelX).attr("y", y).attr("font-size", 35.5)
    .attr("fill", ink).text(name);
  [tsn10Metrics[r], tsn15Metrics[r]].forEach((v, c) => {
    const [base, sup] = v.split("^");
    const t = gA.append("text").attr("x", tbl.colX[c]).attr("y", y).attr("text-anchor", "middle")
      .attr("font-size", 35.5).attr("fill", ink);
    t.append("tspan").text(base);
    if (sup) t.append("tspan").attr("font-size", 20).attr("dy", -14).text(sup);
  });
});

// ---------- panel B ----------
const bX = d3.scaleLinear().domain([0, 45000]).range([1622, 2891]);
const bY = d3.scaleLinear().domain([0, 1.2]).range([764, 139]);
const gB = svg.append("g");
const numFmt = d => String(+d.toFixed(1));

gB.append("g").attr("class", "axis").attr("transform", `translate(0,${bY(0)})`)
  .call(d3.axisBottom(bX).tickValues(positionTicks).tickSize(8).tickSizeOuter(0)
    .tickPadding(26).tickFormat(d3.format("d")))
  .call(g => g.selectAll("text").attr("font-size", 23).attr("font-family", "Lato").attr("fill", "#333"));
gB.append("g").attr("class", "axis").attr("transform", `translate(${bX(0)},0)`)
  .call(d3.axisLeft(bY).tickValues(depthTicks).tickSize(8).tickSizeOuter(0)
    .tickPadding(13).tickFormat(numFmt))
  .call(g => g.selectAll("text").attr("font-size", 23).attr("font-family", "Lato").attr("fill", "#333"));

const coverageSeries = [tsn15Coverage, tsn10Coverage, nebulizationCoverage];
const coverageColors = ["#2a2aff", "#ff2a1f", "#000"];
const covLine = d3.line().x(d => bX(d[0])).y(d => bY(d[1]));
coverageSeries.forEach((s, i) => {
  gB.append("path").datum(s).attr("d", covLine).attr("fill", "none")
    .attr("stroke", coverageColors[i]).attr("stroke-width", i === 2 ? 5.4 : 5)
    .attr("stroke-linejoin", "round");
});

gB.append("text").attr("transform", "translate(1548,452) rotate(-90)").attr("text-anchor", "middle")
  .attr("font-weight", 700).attr("font-size", 26).attr("fill", ink).text("Relative Depth");
gB.append("text").attr("x", 2302).attr("y", 858).attr("text-anchor", "middle")
  .attr("font-weight", 700).attr("font-size", 24.5).attr("fill", ink).text("Position on Contig");

const legend = gB.append("g").attr("transform", "translate(2890,460)");
coverageLabels.forEach((label, i) => {
  const y = i * 39;
  legend.append("line").attr("x1", 0).attr("x2", 47).attr("y1", y).attr("y2", y)
    .attr("stroke", coverageColors[i]).attr("stroke-width", 5);
  legend.append("text").attr("x", 50).attr("y", y + 8).attr("font-size", 23.5).attr("font-weight", 700)
    .attr("fill", ink).text(label);
});

// ---------- panel C ----------
const gcX = d3.scaleLinear().domain([0, 0.8]).range([474, 992]);

function scatterPanel(opt) {
  const y = d3.scaleLinear().domain([0, 1.2]).range([opt.y0, opt.y1]);
  const g = svg.append("g");
  g.append("g").attr("class", "axis").attr("transform", `translate(0,${opt.y0})`)
    .call(d3.axisBottom(gcX).tickValues(gcTicks).tickSize(7).tickSizeOuter(0)
      .tickPadding(opt.xPad).tickFormat(numFmt))
    .call(s => s.selectAll("text").attr("font-size", 22).attr("font-family", "Lato").attr("fill", "#555"));
  g.append("g").attr("class", "axis").attr("transform", `translate(${gcX(0)},0)`)
    .call(d3.axisLeft(y).tickValues(depthTicks).tickSize(7).tickSizeOuter(0)
      .tickPadding(15).tickFormat(numFmt))
    .call(s => s.selectAll("text").attr("font-size", 22).attr("font-family", "Lato").attr("fill", "#555"));

  const a = opt.arm;
  g.selectAll(".pt").data(opt.data).join("path")
    .attr("d", `M${-a},0H${a}M0,${-a}V${a}`)
    .attr("transform", d => `translate(${gcX(d[0])},${y(d[1])})`)
    .attr("stroke", opt.color).attr("stroke-width", 2.2).attr("fill", "none");

  const fitY = x => opt.fit.slope * x + opt.fit.intercept;
  g.append("line").attr("x1", gcX(fitGcRange[0])).attr("x2", gcX(fitGcRange[1]))
    .attr("y1", y(fitY(fitGcRange[0]))).attr("y2", y(fitY(fitGcRange[1])))
    .attr("stroke", "#222").attr("stroke-width", 2);

  g.append("text").attr("x", 734).attr("y", opt.titleY).attr("text-anchor", "middle")
    .attr("font-weight", 900).attr("font-size", 43).attr("fill", "#111").text(opt.title);
  g.append("text").attr("transform", `translate(399,${(opt.y0 + opt.y1) / 2 + opt.yTitleShift}) rotate(-90)`)
    .attr("text-anchor", "middle").attr("font-weight", 700).attr("font-size", 22).attr("fill", "#222")
    .text("Relative Depth");
  g.append("text").attr("x", opt.eqX).attr("y", opt.eqY).attr("text-anchor", "middle")
    .attr("font-weight", 700).attr("font-size", 21.5).attr("fill", "#222")
    .text(`y = ${opt.fit.slope}x + ${opt.fit.intercept}`);
  const r2 = g.append("text").attr("x", opt.eqX).attr("y", opt.eqY + 28).attr("text-anchor", "middle")
    .attr("font-weight", 700).attr("font-size", 21.5).attr("fill", "#222");
  r2.append("tspan").text("R");
  r2.append("tspan").attr("font-size", 13).attr("dy", -8).text("2");
  r2.append("tspan").attr("dy", 8).text(` = ${opt.fit.r2}`);
  if (opt.xTitle) {
    g.append("text").attr("x", 733).attr("y", 1364).attr("text-anchor", "middle")
      .attr("font-weight", 700).attr("font-size", 21).attr("fill", "#222").text(opt.xTitle);
  }
}

scatterPanel({ data: tsn10Scatter, fit: tsn10Fit, color: "#ff2626", arm: 5.5, title: scatterTitles[0],
  y0: 1269, y1: 902, xPad: 29, titleY: 869, eqX: 918, eqY: 969, yTitleShift: 2, xTitle: "GC Content" });
scatterPanel({ data: tsn15Scatter, fit: tsn15Fit, color: "#2d2dff", arm: 6.5, title: scatterTitles[1],
  y0: 1844, y1: 1487, xPad: 25, titleY: 1460, eqX: 928, eqY: 1570, yTitleShift: 1 });

// ---------- caption ----------
const gCap = svg.append("g");
captionLines.forEach((segs, i) => {
  const t = gCap.append("text").attr("x", 0).attr("y", 0).style("white-space", "pre")
    .attr("font-size", 41).attr("font-weight", i === 0 ? 700 : 400).attr("fill", ink);
  segs.forEach(s => t.append("tspan").attr("fill", s.ref ? refBlue : null).text(s.text));
  const k = captionWidths[i] / t.node().getComputedTextLength();
  t.attr("transform", `translate(1499,${1370 + i * 57.8}) scale(${k},1)`);
});
</script>
</body>
</html>
